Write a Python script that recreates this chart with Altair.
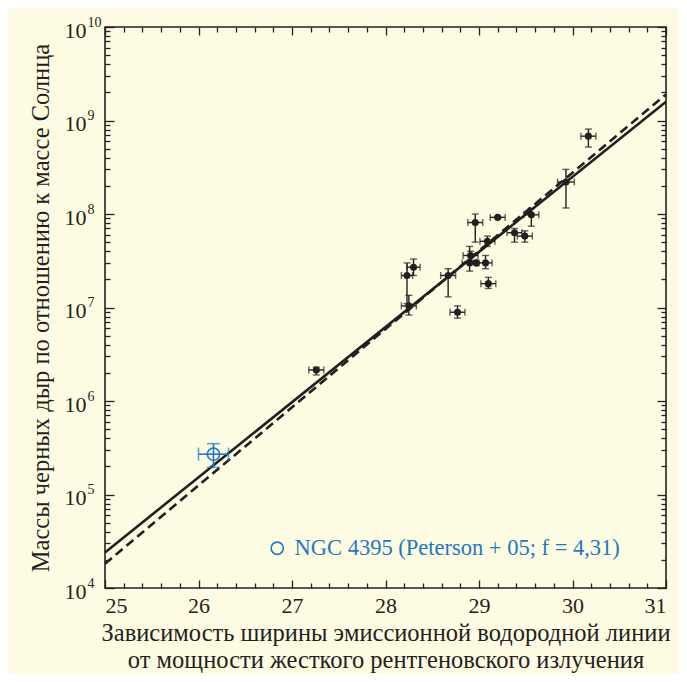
import altair as alt
import pandas as pd

FONT = "Liberation Serif, Times New Roman, serif"
INK = "#231f20"
BLUE = "#1f78c1"
CREAM = "#fefbe3"
W = 561
H = 561

# ---- data ----
lum = [30.17, 29.93, 29.56, 29.20, 28.96, 29.38, 29.49, 29.09, 28.91, 28.90,
       28.97, 29.07, 28.30, 28.23, 28.67, 29.10, 28.25, 28.77, 27.26]
mass = [6.8e8, 2.2e8, 9.8e7, 9.2e7, 8.1e7, 6.3e7, 5.8e7, 5.1e7, 3.6e7, 3.0e7,
        3.0e7, 3.0e7, 2.7e7, 2.2e7, 2.2e7, 1.8e7, 1.04e7, 8.9e6, 2.15e6]
lum_err = [0.08, 0.09, 0.08, 0.08, 0.08, 0.08, 0.08, 0.08, 0.08, 0.08,
           0.0, 0.07, 0.07, 0.06, 0.08, 0.08, 0.08, 0.08, 0.08]
mass_lo = [5.2e8, 1.16e8, 7.4e7, 9.2e7, 5.0e7, 5.0e7, 5.0e7, 4.5e7, 3.2e7, 2.45e7,
           3.0e7, 2.6e7, 2.2e7, 1.1e7, 1.3e7, 1.6e7, 8.3e6, 7.7e6, 1.9e6]
mass_hi = [8.1e8, 3.0e8, 1.15e8, 9.2e7, 1.0e8, 7.0e7, 6.6e7, 5.8e7, 4.0e7, 4.5e7,
           3.0e7, 3.6e7, 3.3e7, 3.0e7, 2.6e7, 2.1e7, 1.35e7, 1.04e7, 2.3e6]

ngc_label = "NGC 4395 (Peterson + 05; f = 4,31)"
ngc_lum = [26.16]
ngc_mass = [2.7e5]
ngc_lum_err = [0.16]
ngc_mass_lo = [1.95e5]
ngc_mass_hi = [3.5e5]

# regression lines (end points at x = 25 and x = 31)
fit_lum = [25, 31]
fit_solid = [2.4e4, 1.59e9]
fit_dashed = [1.82e4, 1.9e9]

x_major = [25, 26, 27, 28, 29, 30, 31]
x_minor = [round(25 + 0.2 * i, 1) for i in range(31) if i % 5 != 0]
y_major = [1e4, 1e5, 1e6, 1e7, 1e8, 1e9, 1e10]
y_minor = [k * 10 ** n for n in range(4, 10) for k in range(2, 10)]

x_title = ["Зависимость ширины эмиссионной водородной линии",
           "от мощности жесткого рентгеновского излучения"]
y_title = "Массы черных дыр по отношению к массе Солнца"

df = pd.DataFrame({
    "lum": lum, "mass": mass,
    "lum_lo": [a - e for a, e in zip(lum, lum_err)],
    "lum_hi": [a + e for a, e in zip(lum, lum_err)],
    "mass_lo": mass_lo, "mass_hi": mass_hi,
})
ngc = pd.DataFrame({
    "lum": ngc_lum, "mass": ngc_mass,
    "lum_lo": [a - e for a, e in zip(ngc_lum, ngc_lum_err)],
    "lum_hi": [a + e for a, e in zip(ngc_lum, ngc_lum_err)],
    "mass_lo": ngc_mass_lo, "mass_hi": ngc_mass_hi,
    "src": [ngc_label],
})
fit = pd.DataFrame({"lum": fit_lum * 2,
                    "mass": fit_solid + fit_dashed,
                    "kind": ["solid"] * 2 + ["dashed"] * 2})

xs = alt.Scale(domain=[25, 31], nice=False, zero=False)
ys = alt.Scale(type="log", domain=[1e4, 1e10], nice=False)

exponent = "format(round(log(datum.value) / LN10), 'd')"

common = dict(grid=False, domain=False, labels=False, title=None,
              tickColor=INK, tickWidth=1.3)

ax_x_lab = alt.Axis(orient="bottom", values=x_major, ticks=False, domain=False,
                    grid=False, labelFont=FONT, labelFontSize=22, labelColor=INK,
                    labelPadding=7, format="d",
                    title=x_title, titleFont=FONT, titleFontSize=24.5,
                    titleFontWeight="normal", titleColor=INK, titlePadding=5,
                    titleLineHeight=27)
ax_y_lab = alt.Axis(orient="left", values=y_major, ticks=False, domain=False,
                    grid=False, labelFont=FONT, labelFontSize=22, labelColor=INK,
                    labelPadding=19, labelExpr="'10'", labelAlign="right",
                    labelBaseline="middle", labelOffset=3,
                    title=y_title, titleFont=FONT, titleFontSize=24.5,
                    titleFontWeight="normal", titleColor=INK, titlePadding=11)
ax_y_exp = alt.Axis(orient="left", values=y_major, ticks=False, domain=False,
                    grid=False, labelFont=FONT, labelFontSize=14, labelColor=INK,
                    labelPadding=18, labelExpr=exponent, labelAlign="left",
                    labelBaseline="middle", labelOffset=-5, title=None)

ax_x_bot_maj = alt.Axis(orient="top", offset=-H, values=x_major, tickSize=8, **common)
ax_x_bot_min = alt.Axis(orient="top", offset=-H, values=x_minor, tickSize=5, **common)
ax_x_top_maj = alt.Axis(orient="bottom", offset=-H, values=x_major, tickSize=8, **common)
ax_x_top_min = alt.Axis(orient="bottom", offset=-H, values=x_minor, tickSize=5, **common)
ax_y_l_maj = alt.Axis(orient="right", offset=-W, values=y_major, tickSize=9, **common)
ax_y_l_min = alt.Axis(orient="right", offset=-W, values=y_minor, tickSize=5, **common)
ax_y_r_maj = alt.Axis(orient="left", offset=-W, values=y_major, tickSize=9, **common)
ax_y_r_min = alt.Axis(orient="left", offset=-W, values=y_minor, tickSize=5, **common)

solid = alt.Chart(fit).transform_filter("datum.kind == 'solid'").mark_line(
    color=INK, strokeWidth=2.6).encode(
    x=alt.X("lum:Q", scale=xs, axis=ax_x_lab),
    y=alt.Y("mass:Q", scale=ys, axis=ax_y_lab))

dashed = alt.Chart(fit).transform_filter("datum.kind == 'dashed'").mark_line(
    color=INK, strokeWidth=2.6, strokeDash=[9, 5]).encode(
    x=alt.X("lum:Q", scale=xs, axis=ax_x_bot_maj),
    y=alt.Y("mass:Q", scale=ys, axis=ax_y_l_maj))

xbars = alt.Chart(df).mark_rule(color=INK, strokeWidth=1.4).encode(
    x=alt.X("lum_lo:Q", scale=xs, axis=ax_x_bot_min),
    x2="lum_hi:Q",
    y=alt.Y("mass:Q", scale=ys, axis=ax_y_l_min))

ybars = alt.Chart(df).mark_rule(color=INK, strokeWidth=1.4).encode(
    x=alt.X("lum:Q", scale=xs, axis=ax_x_top_maj),
    y=alt.Y("mass_lo:Q", scale=ys, axis=ax_y_r_maj),
    y2="mass_hi:Q")

xcap_lo = alt.Chart(df).mark_tick(color=INK, thickness=1.4, size=7, orient="vertical").encode(
    x=alt.X("lum_lo:Q", scale=xs, axis=ax_x_top_min),
    y=alt.Y("mass:Q", scale=ys, axis=ax_y_r_min))
xcap_hi = alt.Chart(df).mark_tick(color=INK, thickness=1.4, size=7, orient="vertical").encode(
    x=alt.X("lum_hi:Q", scale=xs, axis=None),
    y=alt.Y("mass:Q", scale=ys, axis=ax_y_exp))
ycap_lo = alt.Chart(df).mark_tick(color=INK, thickness=1.4, size=7, orient="horizontal").encode(
    x=alt.X("lum:Q", scale=xs, axis=None),
    y=alt.Y("mass_lo:Q", scale=ys, axis=None))
ycap_hi = alt.Chart(df).mark_tick(color=INK, thickness=1.4, size=7, orient="horizontal").encode(
    x=alt.X("lum:Q", scale=xs, axis=None),
    y=alt.Y("mass_hi:Q", scale=ys, axis=None))

points = alt.Chart(df).mark_circle(color=INK, size=50, opacity=1).encode(
    x=alt.X("lum:Q", scale=xs, axis=None),
    y=alt.Y("mass:Q", scale=ys, axis=None))

# NGC 4395 point
n_xbar = alt.Chart(ngc).mark_rule(color=BLUE, strokeWidth=1.6).encode(
    x=alt.X("lum_lo:Q", scale=xs, axis=None), x2="lum_hi:Q",
    y=alt.Y("mass:Q", scale=ys, axis=None))
n_ybar = alt.Chart(ngc).mark_rule(color=BLUE, strokeWidth=1.6).encode(
    x=alt.X("lum:Q", scale=xs, axis=None),
    y=alt.Y("mass_lo:Q", scale=ys, axis=None), y2="mass_hi:Q")
n_xcap_lo = alt.Chart(ngc).mark_tick(color=BLUE, thickness=1.6, size=13, orient="vertical").encode(
    x=alt.X("lum_lo:Q", scale=xs, axis=None), y=alt.Y("mass:Q", scale=ys, axis=None))
n_xcap_hi = alt.Chart(ngc).mark_tick(color=BLUE, thickness=1.6, size=13, orient="vertical").encode(
    x=alt.X("lum_hi:Q", scale=xs, axis=None), y=alt.Y("mass:Q", scale=ys, axis=None))
n_ycap_lo = alt.Chart(ngc).mark_tick(color=BLUE, thickness=1.6, size=13, orient="horizontal").encode(
    x=alt.X("lum:Q", scale=xs, axis=None), y=alt.Y("mass_lo:Q", scale=ys, axis=None))
n_ycap_hi = alt.Chart(ngc).mark_tick(color=BLUE, thickness=1.6, size=13, orient="horizontal").encode(
    x=alt.X("lum:Q", scale=xs, axis=None), y=alt.Y("mass_hi:Q", scale=ys, axis=None))
n_point = alt.Chart(ngc).mark_point(filled=False, strokeWidth=1.6, size=150, opacity=1).encode(
    x=alt.X("lum:Q", scale=xs, axis=None),
    y=alt.Y("mass:Q", scale=ys, axis=None),
    color=alt.Color("src:N",
                    scale=alt.Scale(domain=[ngc_label], range=[BLUE]),
                    legend=alt.Legend(title=None, orient="none", legendX=161, legendY=510,
                                      labelFont=FONT, labelFontSize=22.5, labelColor=BLUE,
                                      labelLimit=500, symbolType="circle",
                                      symbolSize=150, symbolStrokeWidth=1.6,
                                      symbolStrokeColor=BLUE, symbolFillColor="transparent",
                                      labelOffset=6)))

chart = alt.layer(
    solid, dashed, xbars, ybars, xcap_lo, xcap_hi, ycap_lo, ycap_hi, points,
    n_xbar, n_ybar, n_xcap_lo, n_xcap_hi, n_ycap_lo, n_ycap_hi, n_point,
).resolve_axis(x="independent", y="independent").properties(
    width=W, height=H,
    autosize=alt.AutoSizeParams(type="none"),
    padding={"left": 97, "top": 19, "right": 13, "bottom": 86},
    background=CREAM,
).configure_view(fill=CREAM, stroke=INK, strokeWidth=1.6)

chart.save("out.html", embed_options={"renderer": "svg", "actions": False})
